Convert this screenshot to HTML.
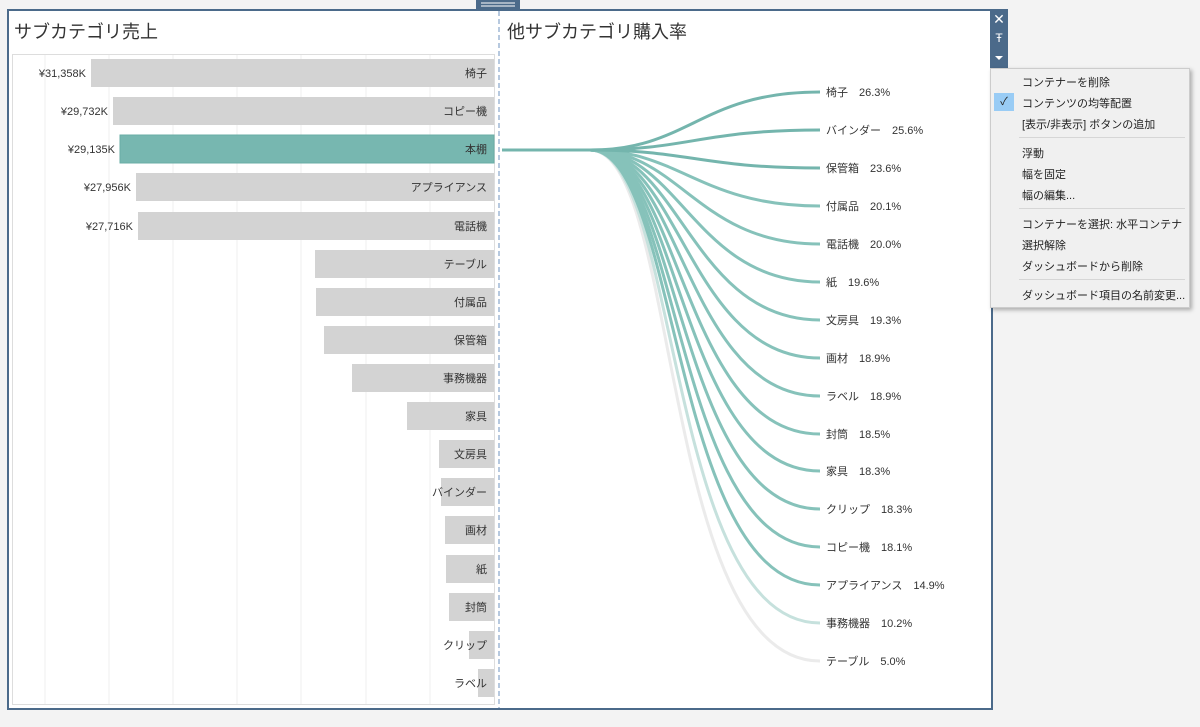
<!DOCTYPE html>
<html><head><meta charset="utf-8"><style>
body{margin:0;width:1200px;height:727px;background:#f3f3f3;font-family:"Liberation Sans","Noto Sans CJK JP",sans-serif;overflow:hidden;position:relative}
.t{font-size:11px;fill:#333}
.menu{position:absolute;left:990px;top:68px;width:198px;height:238px;background:#f0f0f0;border:1px solid #ccc;box-shadow:2px 2px 4px rgba(0,0,0,.3);font-size:11px;color:#222}
.menu div{position:absolute;left:31px;white-space:nowrap}
.menu hr{position:absolute;left:28px;width:166px;margin:0;border:0;border-top:1px solid #d6d6d6}
</style></head><body>
<svg width="1200" height="727" style="position:absolute;left:0;top:0">
<rect x="8" y="10" width="984" height="699" fill="#fff" stroke="#4b6a8a" stroke-width="2"/>
<rect x="476" y="0" width="44" height="9" fill="#4b6a8a"/>
<line x1="481" y1="3" x2="515" y2="3" stroke="#fff"/><line x1="481" y1="6" x2="515" y2="6" stroke="#fff"/>
<text x="14" y="38" font-size="18" fill="#333">サブカテゴリ売上</text>
<text x="507" y="38" font-size="18" fill="#333">他サブカテゴリ購入率</text>
<rect x="12.5" y="54.5" width="482" height="650" fill="#fff" stroke="#ddd"/>
<g stroke="#efefef">
<line x1="45" y1="55" x2="45" y2="704"/><line x1="109" y1="55" x2="109" y2="704"/><line x1="173" y1="55" x2="173" y2="704"/><line x1="237" y1="55" x2="237" y2="704"/><line x1="301" y1="55" x2="301" y2="704"/><line x1="366" y1="55" x2="366" y2="704"/><line x1="430" y1="55" x2="430" y2="704"/>
</g>
<g fill="#d3d3d3">
<rect x="91" y="59" width="403" height="28"/><rect x="113" y="97" width="381" height="28"/>
<rect x="120" y="135" width="374" height="28" fill="#77b7b0" stroke="#6aaea6"/>
<rect x="136" y="173" width="358" height="28"/><rect x="138" y="212" width="356" height="28"/>
<rect x="315" y="250" width="179" height="28"/><rect x="316" y="288" width="178" height="28"/>
<rect x="324" y="326" width="170" height="28"/><rect x="352" y="364" width="142" height="28"/>
<rect x="407" y="402" width="87" height="28"/><rect x="439" y="440" width="55" height="28"/>
<rect x="441" y="478" width="53" height="28"/><rect x="445" y="516" width="49" height="28"/>
<rect x="446" y="555" width="48" height="28"/><rect x="449" y="593" width="45" height="28"/>
<rect x="469" y="631" width="25" height="28"/><rect x="478" y="669" width="16" height="28"/>
</g>
<g class="t" text-anchor="end">
<text x="487" y="77">椅子</text><text x="487" y="115">コピー機</text><text x="487" y="153">本棚</text><text x="487" y="191">アプライアンス</text><text x="487" y="230">電話機</text><text x="487" y="268">テーブル</text><text x="487" y="306">付属品</text><text x="487" y="344">保管箱</text><text x="487" y="382">事務機器</text><text x="487" y="420">家具</text><text x="487" y="458">文房具</text><text x="487" y="496">バインダー</text><text x="487" y="534">画材</text><text x="487" y="573">紙</text><text x="487" y="611">封筒</text><text x="487" y="649">クリップ</text><text x="487" y="687">ラベル</text>
<text x="86" y="77">¥31,358K</text><text x="108" y="115">¥29,732K</text><text x="115" y="153">¥29,135K</text><text x="131" y="191">¥27,956K</text><text x="133" y="230">¥27,716K</text>
</g>
<line x1="499" y1="11" x2="499" y2="708" stroke="#6f93bf" stroke-dasharray="5,3"/>
<g fill="none" stroke-width="3">
<path d="M502,150 L590,150 C680,150 660,661 820,661" stroke="#ebebeb"/>
<path d="M502,150 L590,150 C680,150 665,623 820,623" stroke="#c6e1dd"/>
<g stroke="#86c2ba">
<path d="M502,150 L590,150 C680,150 670,585 820,585"/>
<path d="M502,150 L590,150 C680,150 673,547 820,547"/>
<path d="M502,150 L590,150 C680,150 676,509 820,509"/>
<path d="M502,150 L590,150 C680,150 679,471 820,471"/>
<path d="M502,150 L590,150 C680,150 682,434 820,434"/>
<path d="M502,150 L590,150 C680,150 685,396 820,396"/>
<path d="M502,150 L590,150 C680,150 688,358 820,358"/>
<path d="M502,150 L590,150 C680,150 691,320 820,320"/>
<path d="M502,150 L590,150 C680,150 694,282 820,282"/>
<path d="M502,150 L590,150 C680,150 697,244 820,244"/>
<path d="M502,150 L590,150 C680,150 700,206 820,206"/>
</g>
<g stroke="#74b5ad">
<path d="M502,150 L590,150 C690,150 700,168 820,168"/>
<path d="M502,150 L590,150 C690,150 700,130 820,130"/>
<path d="M502,150 L590,150 C690,150 700,92 820,92"/>
</g>
</g>
<g class="t">
<text x="826" y="96">椅子　26.3%</text><text x="826" y="134">バインダー　25.6%</text><text x="826" y="172">保管箱　23.6%</text><text x="826" y="210">付属品　20.1%</text><text x="826" y="248">電話機　20.0%</text><text x="826" y="286">紙　19.6%</text><text x="826" y="324">文房具　19.3%</text><text x="826" y="362">画材　18.9%</text><text x="826" y="400">ラベル　18.9%</text><text x="826" y="438">封筒　18.5%</text><text x="826" y="475">家具　18.3%</text><text x="826" y="513">クリップ　18.3%</text><text x="826" y="551">コピー機　18.1%</text><text x="826" y="589">アプライアンス　14.9%</text><text x="826" y="627">事務機器　10.2%</text><text x="826" y="665">テーブル　5.0%</text>
</g>
<rect x="990" y="9" width="18" height="59" fill="#4b6a8a"/>
<text x="999" y="24" font-size="14" fill="#fff" text-anchor="middle">✕</text>
<text x="999" y="42" font-size="12" fill="#fff" text-anchor="middle">Ŧ</text>
<path d="M995,56 L1003,56 L999,60 Z" fill="#fff"/>
</svg>
<div class="menu">
<div style="top:5px">コンテナーを削除</div>
<div style="left:3px;top:24px;width:20px;height:18px;background:#99ccf5;text-align:center;line-height:18px">✓</div>
<div style="top:26px">コンテンツの均等配置</div>
<div style="top:47px">[表示/非表示] ボタンの追加</div>
<hr style="top:68px">
<div style="top:76px">浮動</div>
<div style="top:97px">幅を固定</div>
<div style="top:118px">幅の編集...</div>
<hr style="top:139px">
<div style="top:147px">コンテナーを選択: 水平コンテナ</div>
<div style="top:168px">選択解除</div>
<div style="top:189px">ダッシュボードから削除</div>
<hr style="top:210px">
<div style="top:218px">ダッシュボード項目の名前変更...</div>
</div>
</body></html>
